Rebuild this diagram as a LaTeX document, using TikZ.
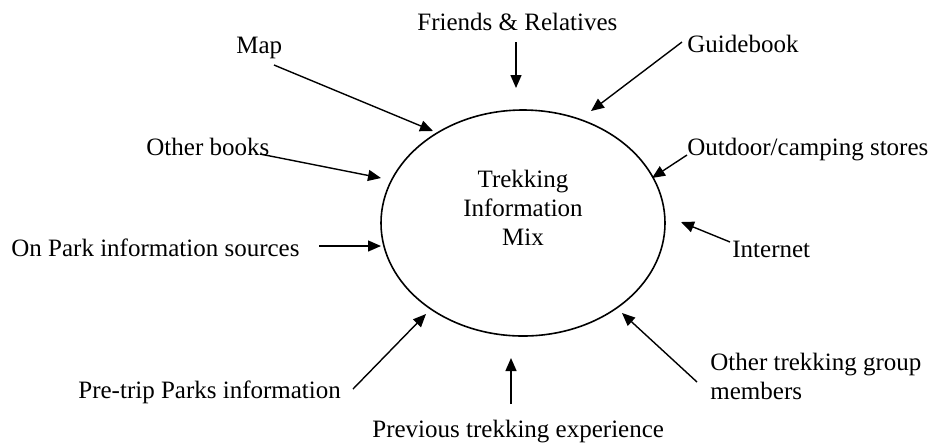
\documentclass[tikz,border=0pt]{standalone}
\usepackage{fontspec}
\setmainfont{Liberation Serif}
\usetikzlibrary{arrows.meta}
\begin{document}
\begin{tikzpicture}[x=0.5pt,y=-0.5pt,
  lbl/.style={inner sep=0pt,anchor=base west,font=\fontsize{12.5}{14.2}\selectfont},
  feed/.style={-{Triangle[length=6.5pt,width=5.5pt]},line width=0.7pt}]
\useasboundingbox (0,0) rectangle (932,447);

% central ellipse
\draw[line width=0.8pt] (523,223) ellipse [x radius=142, y radius=113];
\node[inner sep=0pt,anchor=base,align=center,font=\fontsize{12.5}{14.5}\selectfont] (mix) at (523,245)
  {Trekking\\Information\\Mix};

% sources
\node[lbl] (friends) at (417,30) {Friends \& Relatives};
\node[lbl] (map) at (236,53) {Map};
\node[lbl] (guide) at (687,52) {Guidebook};
\node[lbl] (outdoor) at (687,155) {Outdoor/camping stores};
\node[lbl] (books) at (146,155) {Other books};
\node[lbl] (onpark) at (11,256) {On Park information sources};
\node[lbl] (internet) at (732,257) {Internet};
\node[lbl] (pretrip) at (78,398) {Pre-trip Parks information};
\node[lbl] (previous) at (372,437) {Previous trekking experience};
\node[lbl,align=left] (group) at (710,399) {Other trekking group\\members};

% arrow tails and heads
\coordinate (friendsT) at (516,42);   \coordinate (friendsH) at (516,88);
\coordinate (mapT) at (274,65);       \coordinate (mapH) at (433,131);
\coordinate (guideT) at (682,42);     \coordinate (guideH) at (591,111);
\coordinate (outdoorT) at (687,155);  \coordinate (outdoorH) at (652,178);
\coordinate (booksT) at (260,154);    \coordinate (booksH) at (381,178);
\coordinate (onparkT) at (319,246);   \coordinate (onparkH) at (381,246);
\coordinate (internetT) at (730,242); \coordinate (internetH) at (681,222);
\coordinate (pretripT) at (353,389);  \coordinate (pretripH) at (426,314);
\coordinate (previousT) at (511,404); \coordinate (previousH) at (511,358);
\coordinate (groupT) at (697,382);    \coordinate (groupH) at (622,313);

\foreach \s in {friends,map,guide,outdoor,books,onpark,internet,pretrip,previous,group}
  \draw[feed] (\s T) -- (\s H);
\end{tikzpicture}
\end{document}
